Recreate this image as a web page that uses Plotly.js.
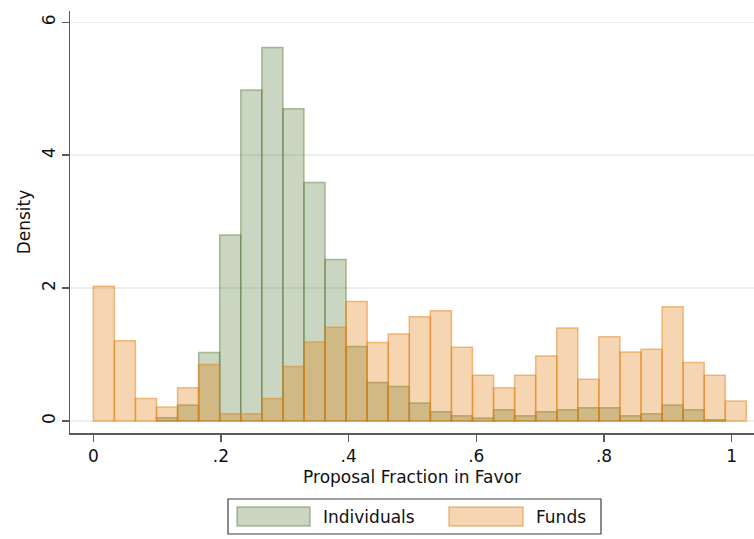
<!DOCTYPE html>
<html>
<head>
<meta charset="utf-8">
<script src="https://cdn.plot.ly/plotly-3.0.1.min.js"></script>
<style>html,body{margin:0;padding:0;background:#fff;}#chart{width:754px;height:539px;}</style>
</head>
<body>
<div id="chart"></div>
<script>
// Histogram bins (left edges start at 0, equal width)
const binStart = 0;
const binWidth = 0.033;
// Density per bin (null = empty bin)
const individuals = [null, null, null, 0.05, 0.24, 1.03, 2.80, 4.98, 5.62, 4.70, 3.59, 2.43, 1.12, 0.58, 0.52, 0.27,
                     0.14, 0.08, 0.045, 0.17, 0.08, 0.14, 0.17, 0.20, 0.20, 0.08, 0.11, 0.24, 0.17, 0.02, null];
const funds = [2.03, 1.21, 0.34, 0.21, 0.50, 0.85, 0.11, 0.11, 0.34, 0.82, 1.19, 1.41, 1.80, 1.18, 1.31, 1.57,
               1.66, 1.11, 0.69, 0.50, 0.69, 0.98, 1.40, 0.63, 1.27, 1.04, 1.08, 1.72, 0.88, 0.69, 0.30];
const seriesNames = ["Individuals", "Funds"];
const xTickVals = [0, 0.2, 0.4, 0.6, 0.8, 1];
const xTickText = ["0", ".2", ".4", ".6", ".8", "1"];
const yTickVals = [0, 2, 4, 6];
const yTickText = ["0", "2", "4", "6"];

const centers = funds.map((_, i) => binStart + binWidth * (i + 0.5));

const greenFill = "rgba(80,120,50,0.30)";
const greenLine = "rgba(80,120,50,0.45)";
const orangeFill = "rgba(225,118,0,0.30)";
const orangeLine = "rgba(225,130,20,0.50)";

const font = "DejaVu Sans, Liberation Sans, Arial, sans-serif";
const fsize = 17;

const traces = [
  {type: "bar", name: seriesNames[0], x: centers, y: individuals, width: binWidth,
   marker: {color: greenFill, line: {color: greenLine, width: 1.5}}, hoverinfo: "x+y"},
  {type: "bar", name: seriesNames[1], x: centers, y: funds, width: binWidth,
   marker: {color: orangeFill, line: {color: orangeLine, width: 1.5}}, hoverinfo: "x+y"}
];

const W = 684, H = 422; // plot area size in px
const px = v => (v - 70) / W;
const py = v => (433 - v) / H;

const layout = {
  width: 754, height: 539,
  margin: {l: 70, r: 0, t: 11, b: 106, pad: 0},
  paper_bgcolor: "#ffffff", plot_bgcolor: "#ffffff",
  barmode: "overlay", bargap: 0, showlegend: false,
  font: {family: font, size: fsize, color: "#000"},
  xaxis: {
    range: [-0.0365, 1.035], tickvals: xTickVals, ticktext: xTickText,
    showgrid: false, zeroline: false, showline: true, linecolor: "#5a5a5a", linewidth: 1.5,
    ticks: "outside", ticklen: 7, tickwidth: 1.5, tickcolor: "#5a5a5a",
    tickfont: {family: font, size: fsize, color: "#111"},
    title: {text: "Proposal Fraction in Favor", font: {family: font, size: fsize, color: "#111"}, standoff: 6}
  },
  yaxis: {
    range: [-0.18, 6.17], tickvals: yTickVals, ticktext: yTickText, tickangle: -90,
    showgrid: true, gridcolor: "#e9f0f1", gridwidth: 1.5, zeroline: false,
    showline: true, linecolor: "#5a5a5a", linewidth: 1.5,
    ticks: "outside", ticklen: 7, tickwidth: 1.5, tickcolor: "#5a5a5a",
    tickfont: {family: font, size: fsize, color: "#111"},
    title: {text: "Density", font: {family: font, size: fsize, color: "#111"}, standoff: 4}
  },
  shapes: [
    {type: "rect", xref: "paper", yref: "paper", x0: px(228), x1: px(601), y0: py(499), y1: py(534),
     line: {color: "#404040", width: 1.2}, fillcolor: "#ffffff"},
    {type: "rect", xref: "paper", yref: "paper", x0: px(237), x1: px(310), y0: py(507), y1: py(526),
     line: {color: greenLine, width: 1.5}, fillcolor: greenFill},
    {type: "rect", xref: "paper", yref: "paper", x0: px(449), x1: px(523), y0: py(507), y1: py(526),
     line: {color: orangeLine, width: 1.5}, fillcolor: orangeFill}
  ],
  annotations: [
    {xref: "paper", yref: "paper", x: px(321), y: py(516.5), xanchor: "left", yanchor: "middle",
     text: seriesNames[0], showarrow: false, font: {family: font, size: fsize, color: "#111"}},
    {xref: "paper", yref: "paper", x: px(534), y: py(516.5), xanchor: "left", yanchor: "middle",
     text: seriesNames[1], showarrow: false, font: {family: font, size: fsize, color: "#111"}}
  ]
};

Plotly.newPlot("chart", traces, layout, {displayModeBar: false, staticPlot: true});
</script>
</body>
</html>
